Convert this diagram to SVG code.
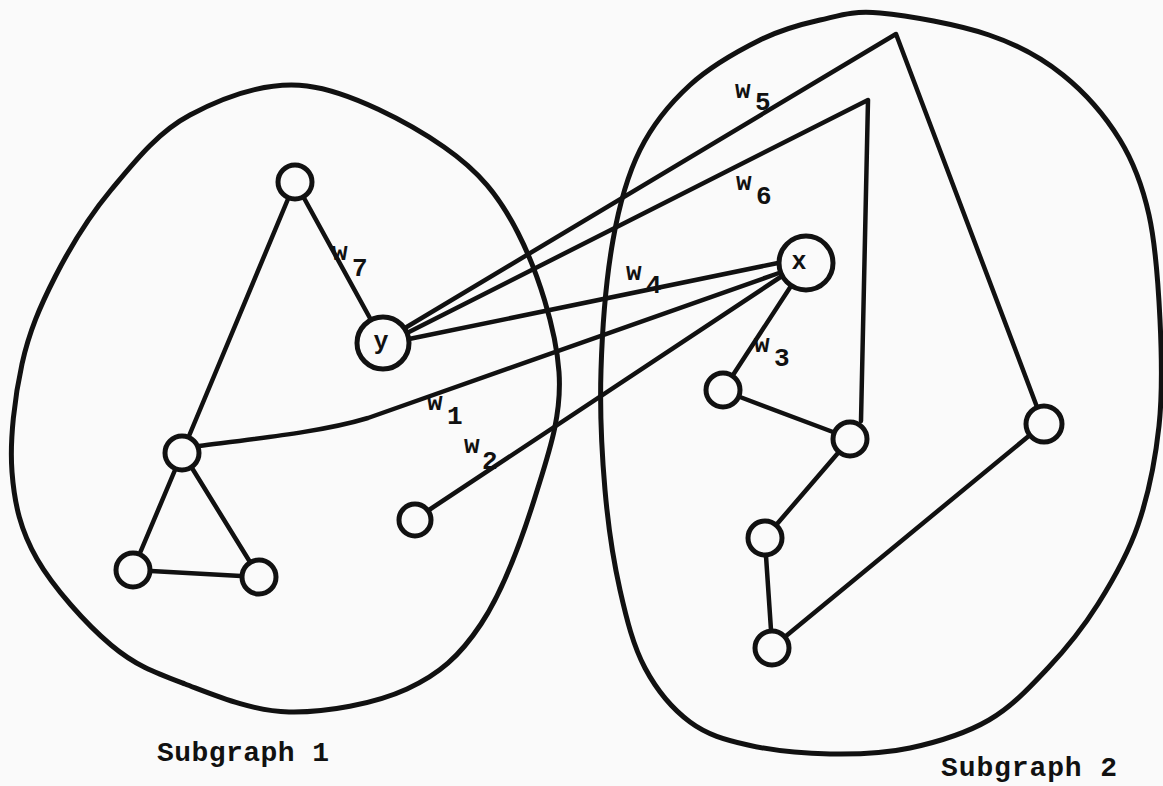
<svg xmlns="http://www.w3.org/2000/svg" width="1163" height="786" viewBox="0 0 1163 786">
<style>
.outline{fill:none;stroke:#111;stroke-width:5;stroke-linejoin:round}
.edge{fill:none;stroke:#111;stroke-width:4.5;stroke-linecap:round;stroke-linejoin:round}
.node{fill:#fafafa;stroke:#111;stroke-width:5}
.lbl{font-family:"Liberation Mono","Courier New",monospace;font-size:26px;fill:#111;font-weight:bold}
.nlbl{font-family:"Liberation Mono","Courier New",monospace;font-size:25px;fill:#111;font-weight:bold;text-anchor:middle}
.title{font-family:"Liberation Mono","Courier New",monospace;font-size:28px;fill:#111;font-weight:bold}
</style>
<rect width="1163" height="786" fill="#fafafa"/>
<g id="subgraph1">
<path class="outline" d="M307,86 C349.3,91.3 408.8,122.5 444,147 C479.2,171.5 498.8,195.5 518,233 C537.2,270.5 556,328.5 559,372 C562,415.5 549,452 536,494 C523,536 502.5,591.5 481,624 C459.5,656.5 439,674.3 407,689 C375,703.7 326,712.8 289,712 C252,711.2 214.7,695.2 185,684 C155.3,672.8 135.7,665.8 111,645 C86.3,624.2 53.5,587.8 37,559 C20.5,530.2 14.5,504.5 12,472 C9.5,439.5 14.8,396.5 22,364 C29.2,331.5 40.2,306 55,277 C69.8,248 88.5,217 111,190 C133.5,163 157.3,132.3 190,115 C222.7,97.7 264.7,80.7 307,86 Z"/>
<text class="title" x="157" y="761" textLength="172">Subgraph 1</text>
</g>
<g id="subgraph2">
<path class="outline" d="M880,13 C908.2,15.5 958.5,24.7 989,35 C1019.5,45.3 1041.2,57.5 1063,75 C1084.8,92.5 1105.7,116.7 1120,140 C1134.3,163.3 1142.3,185 1149,215 C1155.7,245 1158.3,284.8 1160,320 C1161.7,355.2 1162.7,391.8 1159,426 C1155.3,460.2 1148.2,495.3 1138,525 C1127.8,554.7 1113,580.2 1098,604 C1083,627.8 1066.2,648.7 1048,668 C1029.8,687.3 1012,706.7 989,720 C966,733.3 936.5,742.3 910,748 C883.5,753.7 857,754.5 830,754 C803,753.5 771.3,750.3 748,745 C724.7,739.7 707.2,734.8 690,722 C672.8,709.2 656.7,690 645,668 C633.3,646 626.7,619.7 620,590 C613.3,560.3 608.2,526.7 605,490 C601.8,453.3 599.7,411.7 601,370 C602.3,328.3 606.5,276.7 613,240 C619.5,203.3 627.2,175.8 640,150 C652.8,124.2 670,103.3 690,85 C710,66.7 738.3,50.8 760,40 C781.7,29.2 800,24.5 820,20 C840,15.5 851.8,10.5 880,13 Z"/>
<text class="title" x="941" y="776" textLength="176">Subgraph 2</text>
</g>
<g id="connectors">
<path class="edge" d="M405,328 L896,34 L1037,407"/>
<path class="edge" d="M407,333 L868,100 L861,421"/>
<path class="edge" d="M409,339 L778,263"/>
<path class="edge" d="M199,446 C270,437 325,431 368,418 L779,273"/>
<path class="edge" d="M429,510 L782,276"/>
<path class="edge" d="M791,286 L733,375"/>
<path class="edge" d="M304,198 L371,320"/>
<path class="edge" d="M288,199 L189,436"/>
<path class="edge" d="M175,470 L140,553"/>
<path class="edge" d="M192,468 L250,562"/>
<path class="edge" d="M151,571 L241,576"/>
<path class="edge" d="M740,397 L833,432"/>
<path class="edge" d="M838,453 L777,524"/>
<path class="edge" d="M766,556 L771,630"/>
<path class="edge" d="M786,636 L1030,435"/>
</g>
<g id="edge-labels">
<text class="lbl" x="332" y="260">w</text><text class="lbl" x="352" y="276">7</text>
<text class="lbl" x="735" y="98">w</text><text class="lbl" x="755" y="110">5</text>
<text class="lbl" x="736" y="190">w</text><text class="lbl" x="756" y="204">6</text>
<text class="lbl" x="626" y="280">w</text><text class="lbl" x="646" y="293">4</text>
<text class="lbl" x="754" y="352">w</text><text class="lbl" x="774" y="366">3</text>
<text class="lbl" x="427" y="410">w</text><text class="lbl" x="447" y="424">1</text>
<text class="lbl" x="464" y="453">w</text><text class="lbl" x="482" y="469">2</text>
</g>
<g id="node-top1"><circle class="node" cx="295" cy="182" r="17"/></g>
<g id="node-y"><circle class="node" cx="383" cy="343" r="26"/><text class="nlbl" x="381" y="349">y</text></g>
<g id="node-left"><circle class="node" cx="182" cy="453" r="17"/></g>
<g id="node-bl"><circle class="node" cx="133" cy="570" r="17"/></g>
<g id="node-br"><circle class="node" cx="259" cy="577" r="17"/></g>
<g id="node-w2"><circle class="node" cx="415" cy="520" r="16"/></g>
<g id="node-x"><circle class="node" cx="806" cy="263" r="27"/><text class="nlbl" x="799" y="269">x</text></g>
<g id="node-w3"><circle class="node" cx="723" cy="390" r="17"/></g>
<g id="node-mid"><circle class="node" cx="850" cy="439" r="17"/></g>
<g id="node-low1"><circle class="node" cx="765" cy="538" r="17"/></g>
<g id="node-low2"><circle class="node" cx="772" cy="648" r="17"/></g>
<g id="node-right"><circle class="node" cx="1044" cy="424" r="18"/></g>
</svg>
